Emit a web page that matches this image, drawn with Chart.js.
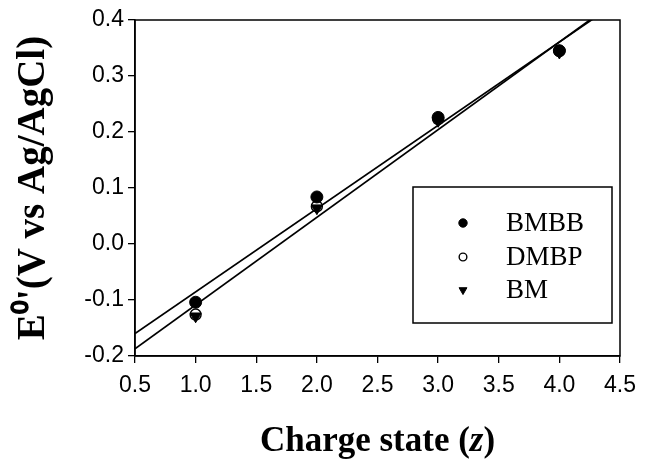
<!DOCTYPE html>
<html><head><meta charset="utf-8">
<script src="https://cdn.jsdelivr.net/npm/chart.js@4.4.1/dist/chart.umd.min.js"></script>
<style>html,body{margin:0;padding:0;background:#fff;}#wrap{width:645px;height:467px;}</style>
</head><body><div id="wrap"><canvas id="c" width="645" height="467"></canvas></div>
<script>
// ---- data ----
const chargeStates = [1, 2, 3, 4];
const bmbbValues = [-0.104, 0.084, 0.226, 0.345];
const dmbpValues = [-0.126, 0.067, 0.223, 0.345];
const bmValues   = [-0.129, 0.064, 0.220, 0.342];
const fitZ = [0.5, 4.5];
const fitUpper = [-0.160, 0.435];
const fitLower = [-0.187, 0.439];
const seriesNames = ['BMBB', 'DMBP', 'BM'];
const xTickValues = [0.5, 1.0, 1.5, 2.0, 2.5, 3.0, 3.5, 4.0, 4.5];
const yTickValues = [-0.2, -0.1, 0.0, 0.1, 0.2, 0.3, 0.4];

const toPts = (xs, ys) => xs.map((x, i) => ({x: x, y: ys[i]}));

const styles = [
  {pointStyle: 'circle', radius: 6, rotation: 0, bg: '#000', bd: '#000', bw: 1},
  {pointStyle: 'circle', radius: 5.5, rotation: 0, bg: '#fff', bd: '#000', bw: 1.4},
  {pointStyle: 'triangle', radius: 6.5, rotation: 180, bg: '#000', bd: '#000', bw: 1}
];
const seriesData = [bmbbValues, dmbpValues, bmValues];

const datasets = seriesData.map((vals, i) => ({
  label: seriesNames[i],
  data: toPts(chargeStates, vals),
  showLine: false,
  pointStyle: styles[i].pointStyle,
  pointRadius: styles[i].radius,
  pointRotation: styles[i].rotation,
  pointBackgroundColor: styles[i].bg,
  pointBorderColor: styles[i].bd,
  pointBorderWidth: styles[i].bw,
  order: i === 0 ? 0 : (i === 2 ? 1 : 2)
}));
[fitUpper, fitLower].forEach((f, i) => {
  datasets.push({
    label: 'fit' + i,
    data: toPts(fitZ, f),
    showLine: true,
    borderColor: '#000',
    borderWidth: 1.7,
    pointRadius: 0,
    fill: false,
    order: 5
  });
});

const decor = {
  id: 'decor',
  afterDatasetsDraw(chart) {
    const ctx = chart.ctx, a = chart.chartArea;
    ctx.save();
    ctx.strokeStyle = '#000';
    ctx.lineWidth = 1.5;
    ctx.strokeRect(a.left, a.top, a.right - a.left, a.bottom - a.top);
    // legend box
    const lx = 413, ly = 187, lw = 199, lh = 136;
    ctx.fillStyle = '#fff';
    ctx.fillRect(lx, ly, lw, lh);
    ctx.strokeRect(lx, ly, lw, lh);
    const rows = [223, 257, 290];
    seriesNames.forEach((name, i) => {
      const s = styles[i];
      ctx.fillStyle = s.bg; ctx.strokeStyle = s.bd; ctx.lineWidth = s.bw;
      Chart.helpers.drawPoint(ctx, {pointStyle: s.pointStyle, radius: s.radius * 0.7, rotation: s.rotation, borderWidth: s.bw}, 463, rows[i]);
      ctx.fillStyle = '#000';
      ctx.font = '27px "Liberation Serif", "Times New Roman", serif';
      ctx.textBaseline = 'middle';
      ctx.textAlign = 'left';
      ctx.fillText(name, 506, rows[i] + 1);
    });
    // x title with italic z
    ctx.fillStyle = '#000';
    ctx.textBaseline = 'middle';
    const fB = 'bold 35px "Liberation Serif", "Times New Roman", serif';
    const fI = 'bold italic 35px "Liberation Serif", "Times New Roman", serif';
    const p1 = 'Charge state (', p2 = 'z', p3 = ')';
    ctx.font = fB; const w1 = ctx.measureText(p1).width, w3 = ctx.measureText(p3).width;
    ctx.font = fI; const w2 = ctx.measureText(p2).width;
    let x0 = (a.left + a.right) / 2 - (w1 + w2 + w3) / 2;
    const ty = 442;
    ctx.textAlign = 'left';
    ctx.font = fB; ctx.fillText(p1, x0, ty);
    ctx.font = fI; ctx.fillText(p2, x0 + w1, ty);
    ctx.font = fB; ctx.fillText(p3, x0 + w1 + w2, ty);
    // y title
    ctx.save();
    ctx.translate(34, 188);
    ctx.rotate(-Math.PI / 2);
    ctx.textAlign = 'center';
    ctx.font = 'bold 39px "Liberation Serif", "Times New Roman", serif';
    ctx.fillText("E\u2070'(V vs Ag/AgCl)", 0, 0);
    ctx.restore();
    ctx.restore();
  }
};

new Chart(document.getElementById('c'), {
  type: 'scatter',
  data: {datasets: datasets},
  options: {
    responsive: false,
    animation: false,
    devicePixelRatio: 1,
    layout: {padding: {top: 20, right: 25, left: 0, bottom: 0}},
    plugins: {legend: {display: false}, tooltip: {enabled: false}},
    scales: {
      x: {
        type: 'linear', min: 0.5, max: 4.5,
        afterFit: s => { s.height = 111; },
        afterBuildTicks: s => { s.ticks = xTickValues.map(v => ({value: v})); },
        ticks: {color: '#000', padding: 9, font: {family: '"Liberation Sans", Arial, sans-serif', size: 23},
                callback: v => Number(v).toFixed(1), maxRotation: 0, autoSkip: false},
        grid: {drawOnChartArea: false, drawTicks: true, tickLength: 7, color: '#000', lineWidth: 1.3},
        border: {display: true, color: '#000', width: 1.5}
      },
      y: {
        type: 'linear', min: -0.2, max: 0.4,
        afterFit: s => { s.width = 135; },
        afterBuildTicks: s => { s.ticks = yTickValues.map(v => ({value: v})); },
        ticks: {color: '#000', padding: 4, font: {family: '"Liberation Sans", Arial, sans-serif', size: 23},
                callback: v => Number(v).toFixed(1), autoSkip: false},
        grid: {drawOnChartArea: false, drawTicks: true, tickLength: 7, color: '#000', lineWidth: 1.3},
        border: {display: true, color: '#000', width: 1.5}
      }
    }
  },
  plugins: [decor]
});
</script>
</body></html>
